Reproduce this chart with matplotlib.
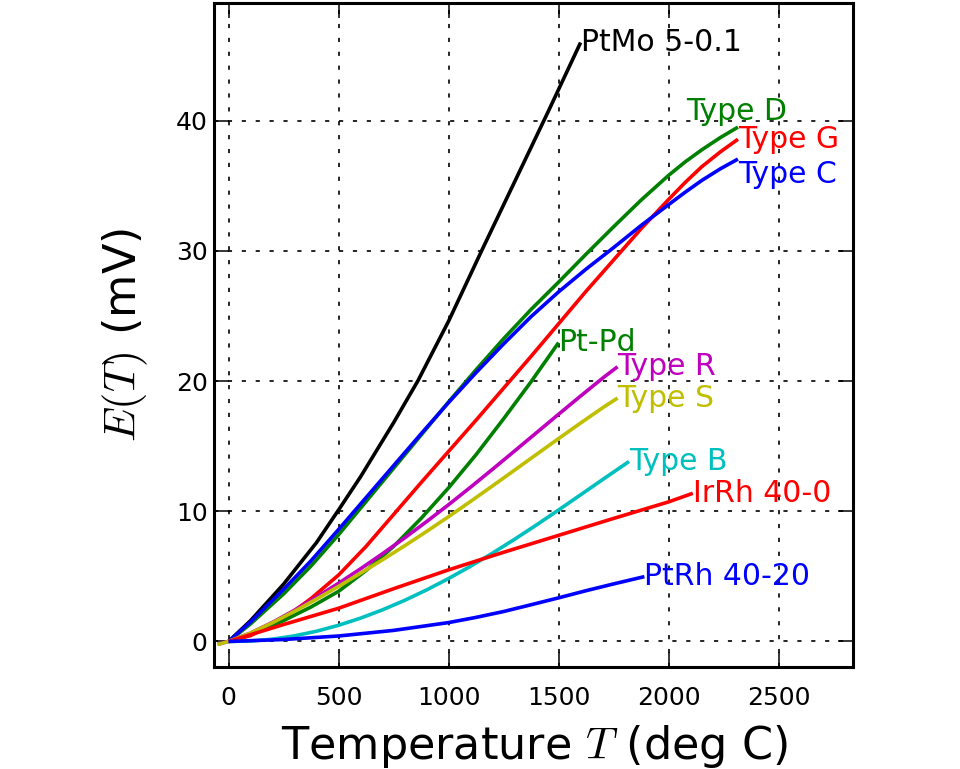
import matplotlib
matplotlib.use('Agg')
import matplotlib.pyplot as plt

plt.rcParams['mathtext.fontset'] = 'cm'
plt.rcParams['lines.scale_dashes'] = False
plt.rcParams['font.family'] = ['DejaVu Sans']

# ---------------- data (deg C, mV) ----------------
ptmo_T = [0, 100, 250, 400, 500, 600, 750, 860, 1000, 1150, 1300, 1450, 1600]
ptmo_E = [0, 1.6, 4.4, 7.6, 10.1, 12.65, 16.8, 20.0, 24.6, 30.0, 35.3, 40.6, 46.0]

typeD_T = [0, 100, 250, 375, 500, 625, 750, 875, 1000, 1125, 1250, 1375, 1500,
           1625, 1750, 1875, 2000, 2075, 2150, 2235, 2315]
typeD_E = [0, 1.35, 3.65, 5.8, 8.2, 10.75, 13.3, 15.85, 18.4, 20.87, 23.25, 25.5,
           27.6, 29.75, 31.85, 33.9, 35.8, 36.83, 37.75, 38.7, 39.5]

typeG_T = [0, 100, 250, 375, 500, 625, 750, 875, 1000, 1125, 1250, 1375, 1500,
           1625, 1750, 1875, 2000, 2075, 2150, 2235, 2315]
typeG_E = [0, 0.45, 1.75, 3.3, 5.1, 7.3, 9.75, 12.2, 14.6, 17.0, 19.45, 21.9,
           24.4, 26.9, 29.3, 31.7, 33.95, 35.25, 36.45, 37.6, 38.57]

typeC_T = [0, 100, 250, 375, 500, 625, 750, 875, 1000, 1125, 1250, 1375, 1500,
           1625, 1750, 1875, 2000, 2075, 2150, 2235, 2315]
typeC_E = [0, 1.5, 4.0, 6.2, 8.6, 11.05, 13.5, 15.95, 18.35, 20.65, 22.85, 24.95,
           26.85, 28.6, 30.25, 31.95, 33.55, 34.5, 35.4, 36.3, 37.05]

ptpd_T = [0, 125, 250, 375, 500, 625, 750, 875, 1000, 1125, 1250, 1375, 1500]
ptpd_E = [0, 0.7, 1.6, 2.65, 3.85, 5.45, 7.3, 9.45, 11.8, 14.35, 17.1, 19.95, 22.95]

typeR_T = [-50, 0, 100, 200, 300, 400, 500, 600, 700, 800, 900, 1000, 1100,
           1200, 1300, 1400, 1500, 1600, 1700, 1768]
typeR_E = [-0.226, 0, 0.647, 1.469, 2.401, 3.408, 4.471, 5.583, 6.743, 7.950,
           9.205, 10.506, 11.850, 13.228, 14.629, 16.040, 17.451, 18.849, 20.222, 21.101]

typeS_T = [-50, 0, 100, 200, 300, 400, 500, 600, 700, 800, 900, 1000, 1100,
           1200, 1300, 1400, 1500, 1600, 1700, 1768]
typeS_E = [-0.236, 0, 0.646, 1.441, 2.323, 3.259, 4.233, 5.239, 6.275, 7.345,
           8.449, 9.587, 10.757, 11.951, 13.159, 14.373, 15.582, 16.777, 17.947, 18.693]

typeB_T = [0, 100, 200, 300, 400, 500, 600, 700, 800, 900, 1000, 1100, 1200,
           1300, 1400, 1500, 1600, 1700, 1800, 1820]
typeB_E = [0, 0.033, 0.178, 0.431, 0.787, 1.242, 1.792, 2.431, 3.154, 3.957,
           4.834, 5.780, 6.786, 7.848, 8.956, 10.099, 11.263, 12.433, 13.591, 13.820]

irrh_T = [0, 250, 500, 750, 1000, 1250, 1500, 1750, 2000, 2110]
irrh_E = [0, 1.3, 2.55, 4.05, 5.5, 6.85, 8.15, 9.45, 10.72, 11.38]

ptrh_T = [0, 250, 500, 750, 1000, 1125, 1250, 1375, 1500, 1625, 1750, 1890]
ptrh_E = [0, 0.15, 0.42, 0.85, 1.45, 1.85, 2.3, 2.82, 3.35, 3.9, 4.42, 4.98]

series = [
    ("PtMo 5-0.1", ptmo_T, ptmo_E, 'k', None),
    ("Type D", typeD_T, typeD_E, 'g', (2081, 40.67)),
    ("Type G", typeG_T, typeG_E, 'r', None),
    ("Type C", typeC_T, typeC_E, 'b', (2315, 35.9)),
    ("Pt-Pd", ptpd_T, ptpd_E, 'g', None),
    ("Type R", typeR_T, typeR_E, 'm', None),
    ("Type S", typeS_T, typeS_E, 'y', None),
    ("Type B", typeB_T, typeB_E, 'c', None),
    ("IrRh 40-0", irrh_T, irrh_E, 'r', None),
    ("PtRh 40-20", ptrh_T, ptrh_E, 'b', None),
]

colors = {'k': (0, 0, 0), 'g': (0, 0.5, 0), 'r': (1, 0, 0), 'b': (0, 0, 1),
          'm': (0.75, 0, 0.75), 'y': (0.75, 0.75, 0), 'c': (0, 0.75, 0.75)}

fig = plt.figure(figsize=(9.6, 7.69), dpi=100)
ax = fig.add_axes([0.2234, 0.133, 0.8890 - 0.2234, 0.9965 - 0.133])

for name, T, E, c, pos in series:
    ax.plot(T, E, color=colors[c], lw=2.6, solid_capstyle='butt',
            solid_joinstyle='round')
    if pos is None:
        pos = (T[-1], E[-1])
    ax.text(pos[0], pos[1], name, color=colors[c], fontsize=21.5,
            ha='left', va='center')

ax.set_xlim(-64, 2840)
ax.set_ylim(-1.94, 49.06)
ax.set_xticks([0, 500, 1000, 1500, 2000, 2500])
ax.set_yticks([0, 10, 20, 30, 40])

ax.grid(True, color='k', linestyle=(0, (3, 7)), linewidth=1.2)
for s in ax.spines.values():
    s.set_linewidth(2.2)

ax.tick_params(direction='in', length=11, width=1.1, top=True, right=True,
               labelsize=18)
ax.tick_params(axis='x', pad=14)
ax.tick_params(axis='y', pad=5)

ax.set_xlabel(r'Temperature $T$ (deg C)', fontsize=32)
ax.set_ylabel(r'$E(T)$ (mV)', fontsize=32)
ax.xaxis.set_label_coords(0.5, -0.084)
ax.yaxis.set_label_coords(-0.101, 0.5)

fig.savefig('out.png', dpi=100)
